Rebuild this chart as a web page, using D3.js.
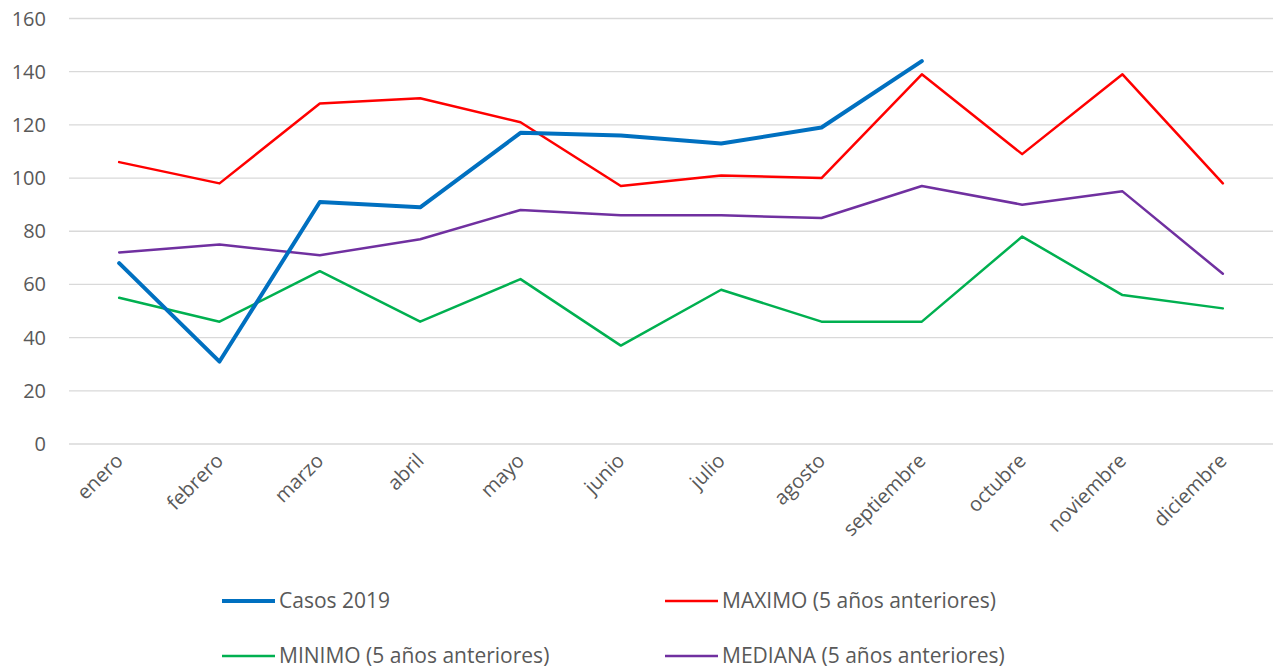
<!DOCTYPE html>
<html lang="es">
<head>
<meta charset="UTF-8">
<title>Casos 2019</title>
<style>
  body { margin: 0; background: #fff; }
  text { font-family: "Open Sans", sans-serif; fill: #595959; }
</style>
</head>
<body>
<div id="chart"></div>
<script src="https://d3js.org/d3.v7.min.js"></script>
<script>
const meses = ["enero","febrero","marzo","abril","mayo","junio","julio","agosto","septiembre","octubre","noviembre","diciembre"];
const casos2019 = [68, 31, 91, 89, 117, 116, 113, 119, 144, null, null, null];
const maximo = [106, 98, 128, 130, 121, 97, 101, 100, 139, 109, 139, 98];
const minimo = [55, 46, 65, 46, 62, 37, 58, 46, 46, 78, 56, 51];
const mediana = [72, 75, 71, 77, 88, 86, 86, 85, 97, 90, 95, 64];
const yTicks = [0, 20, 40, 60, 80, 100, 120, 140, 160];

const [width, height] = [1282, 671];
const margin = {left: 69, right: 9, top: 18.5, bottom: 227};

const svg = d3.select("#chart").append("svg")
    .attr("width", width)
    .attr("height", height);

const x = d3.scaleBand().domain(meses)
    .range([margin.left, width - margin.right]);
const y = d3.scaleLinear().domain([0, 160])
    .range([height - margin.bottom, margin.top]);

// grid
svg.append("g").selectAll("line").data(yTicks).join("line")
    .attr("x1", margin.left).attr("x2", width - margin.right)
    .attr("y1", d => y(d)).attr("y2", d => y(d))
    .attr("stroke", "#d9d9d9").attr("stroke-width", 1.3);

// y labels
svg.append("g").selectAll("text").data(yTicks).join("text")
    .attr("x", 46).attr("y", d => y(d))
    .attr("dy", "0.35em")
    .attr("text-anchor", "end")
    .style("font-size", "20px")
    .text(d => d);

// x labels
svg.append("g").selectAll("text").data(meses).join("text")
    .attr("transform", d => `translate(${x(d) + x.bandwidth() / 2 + 5},${y(0) + 18}) rotate(-45)`)
    .attr("text-anchor", "end")
    .style("font-size", "20px")
    .text(d => d);

const series = [
  {name: "Casos 2019", values: casos2019, color: "#0070c0", w: 4},
  {name: "MAXIMO (5 años anteriores)", values: maximo, color: "#ff0000", w: 2.5},
  {name: "MINIMO (5 años anteriores)", values: minimo, color: "#00b050", w: 2.5},
  {name: "MEDIANA (5 años anteriores)", values: mediana, color: "#7030a0", w: 2.5}
];

const line = d3.line()
    .defined(d => d.v != null)
    .x(d => x(d.m) + x.bandwidth() / 2)
    .y(d => y(d.v));

// draw casos last so it sits on top
[series[1], series[2], series[3], series[0]].forEach(s => {
  svg.append("path")
      .datum(meses.map((m, i) => ({m: m, v: s.values[i]})))
      .attr("fill", "none")
      .attr("stroke", s.color)
      .attr("stroke-width", s.w)
      .attr("stroke-linejoin", "round")
      .attr("stroke-linecap", "round")
      .attr("d", line);
});

// legend
const legPos = [[222, 601], [665, 601], [222, 656], [665, 656]];
series.forEach((s, i) => {
  const [lx, ly] = legPos[i];
  const g = svg.append("g").attr("transform", `translate(${lx},${ly})`);
  g.append("line").attr("x1", 0).attr("x2", 53).attr("y1", 0).attr("y2", 0)
      .attr("stroke", s.color).attr("stroke-width", s.w);
  g.append("text").attr("x", 57).attr("dy", "0.35em")
      .style("font-size", "21px")
      .text(s.name);
});
</script>
</body>
</html>
